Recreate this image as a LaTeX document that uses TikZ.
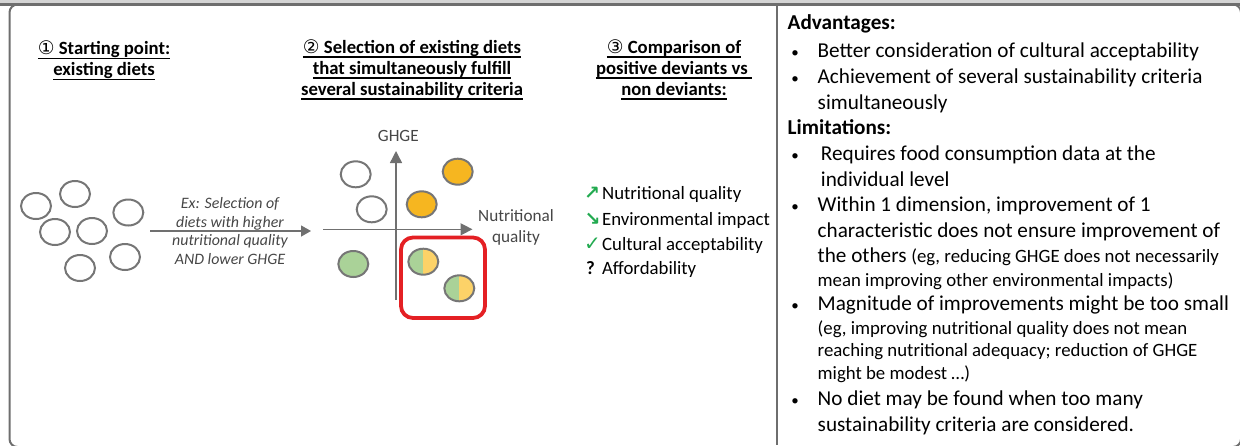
\documentclass[tikz,border=0pt]{standalone}
\usepackage{fontspec}
\setmainfont{Carlito}
\newfontfamily\symfont{DejaVu Sans}
\usetikzlibrary{arrows.meta,shapes.geometric}

\definecolor{framegray}{RGB}{110,110,110}
\definecolor{topgray}{RGB}{212,212,212}
\definecolor{ringgray}{RGB}{118,118,118}
\definecolor{axisgray}{RGB}{112,112,112}
\definecolor{labelgray}{RGB}{70,70,70}
\definecolor{orangefill}{RGB}{246,182,32}
\definecolor{greenfill}{RGB}{170,210,152}
\definecolor{yellowfill}{RGB}{252,210,104}
\definecolor{redbox}{RGB}{228,32,36}
\definecolor{tickgreen}{RGB}{34,170,80}

\newcommand{\panelfont}{\fontsize{10.6}{13}\selectfont}
\newcommand{\notefont}{\fontsize{9.4}{11}\selectfont}
\newcommand{\headfont}{\fontsize{9.35}{10.5}\selectfont\bfseries}
\newcommand{\pathfont}{\fontsize{7.95}{9.25}\selectfont\itshape}
\newcommand{\axisfont}{\fontsize{8.6}{10.3}\selectfont}
\newcommand{\udl}[1]{\setbox0\hbox{#1}\rlap{\rule[-2.2pt]{\wd0}{0.7pt}}\box0}

\tikzset{
    diet/.style={ellipse, draw=ringgray, line width=1pt, minimum width=15pt, minimum height=13pt, inner sep=0pt},
    halfdiet/.style={diet, fill=greenfill, path picture={\fill[yellowfill] (path picture bounding box.north) rectangle (path picture bounding box.south east);}},
    heading/.style={align=center, inner sep=0pt, font=\headfont},
    txtline/.style={anchor=base west, inner sep=0pt},
    bullet/.style={anchor=base, inner sep=0pt, font=\fontsize{7.5}{8}\selectfont},
    signs/.style={anchor=base, inner sep=0pt, text=tickgreen, font=\symfont\bfseries\fontsize{9.5}{10}\selectfont},
    grayarrow/.style={draw=axisgray, line width=0.7pt, -{Triangle[length=6pt,width=6pt]}}
}

\begin{document}
\begin{tikzpicture}[x=0.5pt, y=-0.5pt]

        \useasboundingbox (0,0) rectangle (1240,445);

        % frame
        \fill[topgray] (0,0) rectangle (1240,3.5);
        \draw[framegray, line width=1pt, rounded corners=4pt] (9.5,4.5) rectangle (1241,447);
        \draw[framegray, line width=1.3pt] (0,4.5) -- (1240,4.5);
        \draw[framegray, line width=1pt] (777,4.5) -- (777,445);

        % headings
        \node[heading] (head1) at (104,60.5) {{\symfont\mdseries\udl{\char"2460}}\udl{ Starting point:}\\\udl{existing diets}};
        \node[heading] (head2) at (412,69.5) {{\symfont\mdseries\udl{\char"2461}}\udl{ Selection of existing diets}\\\udl{that simultaneously fulfill}\\\udl{several sustainability criteria}};
        \node[heading] (head3) at (674,69.5) {{\symfont\mdseries\udl{\char"2462}}\udl{ Comparison of}\\\udl{positive deviants vs\ }\\\udl{non deviants:}};

        % existing diets
        \node[diet] (d1) at (36,206) {};
        \node[diet] (d2) at (75,194) {};
        \node[diet] (d3) at (128.3,212.5) {};
        \node[diet] (d4) at (55,232) {};
        \node[diet] (d5) at (92,231) {};
        \node[diet] (d6) at (125,257) {};
        \node[diet] (d7) at (80,268) {};

        % selection arrow
        \coordinate (selstart) at (150,231);
        \coordinate (selend) at (311,231);
        \draw[grayarrow, line width=0.65pt, -{Triangle[length=5pt,width=5.5pt]}] (selstart) -- (selend);
        \node[align=center, inner sep=0pt, font=\pathfont, text=labelgray] (sellabel) at (230,231)
            {Ex: Selection of\\diets with higher\\nutritional quality\\AND lower GHGE};

        % axes
        \coordinate (ybottom) at (396,300);
        \coordinate (ytop) at (396,151);
        \coordinate (xleft) at (323,229.3);
        \coordinate (xright) at (472.5,229.3);
        \draw[grayarrow] (ybottom) -- (ytop);
        \draw[grayarrow] (xleft) -- (xright);
        \node[font=\axisfont, text=labelgray, inner sep=0pt] (ghge) at (398.3,136) {GHGE};
        \node[font=\axisfont, text=labelgray, align=center, inner sep=0pt] (nutq) at (516,227.5) {Nutritional\\quality};

        % diets in the plane
        \node[diet, fill=white] (w1) at (355.7,174.3) {};
        \node[diet, fill=white] (w2) at (371.7,209.3) {};
        \node[diet, fill=orangefill] (o1) at (457.7,171.7) {};
        \node[diet, fill=orangefill] (o2) at (421.7,204.3) {};
        \node[diet, fill=greenfill] (g1) at (353.3,264) {};
        \node[halfdiet] (h1) at (423.3,261.7) {};
        \node[halfdiet] (h2) at (459.3,288.3) {};

        % positive deviants
        \draw[redbox, line width=1.9pt, rounded corners=6pt] (401,237.5) rectangle (485,318);

        % comparison
        \node[signs] (up) at (592,199) {↗};
        \node[signs] (down) at (592.5,225) {↘};
        \node[signs, font=\symfont\bfseries\fontsize{10}{11}\selectfont] (tick) at (592.5,250) {✓};
        \node[anchor=base, inner sep=0pt, font=\notefont\bfseries] (quest) at (590.5,274) {?};
        \node[txtline, font=\notefont] (crit1) at (601.7,199) {Nutritional quality};
        \node[txtline, font=\notefont] (crit2) at (601.7,225) {Environmental impact};
        \node[txtline, font=\notefont] (crit3) at (601.7,250) {Cultural acceptability};
        \node[txtline, font=\notefont] (crit4) at (601.7,274) {Affordability};

        % advantages
        \node[txtline, font=\panelfont\bfseries] (adv) at (787.3,29.3) {Advantages:};
        \node[bullet] (b1) at (795,57.3) {•};
        \node[txtline, font=\panelfont] (adv1) at (817.3,57.3) {Better consideration of cultural acceptability};
        \node[bullet] (b2) at (795,83) {•};
        \node[txtline, font=\panelfont] (adv2) at (817.3,83) {Achievement of several sustainability criteria};
        \node[txtline, font=\panelfont] (adv3) at (817.3,109) {simultaneously};

        % limitations
        \node[txtline, font=\panelfont\bfseries] (lim) at (787.3,134.3) {Limitations:};
        \node[bullet] (b3) at (795,160) {•};
        \node[txtline, font=\panelfont] (lim1) at (820.5,160) {Requires food consumption data at the};
        \node[txtline, font=\panelfont] (lim2) at (820.5,186) {individual level};
        \node[bullet] (b4) at (795,211.7) {•};
        \node[txtline, font=\panelfont] (lim3) at (817.3,211.7) {Within 1 dimension, improvement of 1};
        \node[txtline, font=\panelfont] (lim4) at (817.3,237.5) {characteristic does not ensure improvement of};
        \node[txtline, font=\panelfont] (lim5) at (817.3,262.7) {the others {\notefont(eg, reducing GHGE does not necessarily}};
        \node[txtline, font=\notefont] (lim6) at (817.3,286) {mean improving other environmental impacts)};
        \node[bullet] (b5) at (795,310.3) {•};
        \node[txtline, font=\panelfont] (lim7) at (817.3,310.3) {Magnitude of improvements might be too small};
        \node[txtline, font=\notefont] (lim8) at (817.3,334) {(eg, improving nutritional quality does not mean};
        \node[txtline, font=\notefont] (lim9) at (817.3,356) {reaching nutritional adequacy; reduction of GHGE};
        \node[txtline, font=\notefont] (lim10) at (817.3,379) {might be modest …)};
        \node[bullet] (b6) at (795,405) {•};
        \node[txtline, font=\panelfont] (lim11) at (817.3,405) {No diet may be found when too many};
        \node[txtline, font=\panelfont] (lim12) at (817.3,431.5) {sustainability criteria are considered.};

\end{tikzpicture}
\end{document}
